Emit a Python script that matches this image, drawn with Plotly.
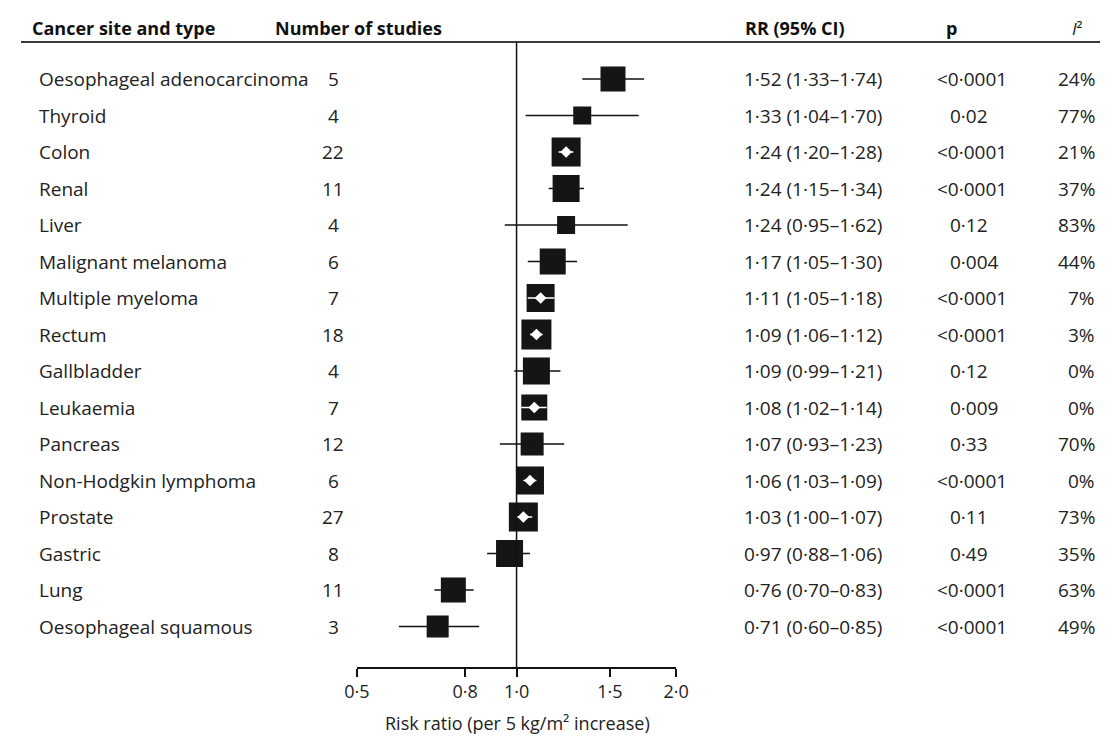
import math
import plotly.graph_objects as go

# ---------------- data ----------------
sites = ["Oesophageal adenocarcinoma", "Thyroid", "Colon", "Renal", "Liver",
         "Malignant melanoma", "Multiple myeloma", "Rectum", "Gallbladder",
         "Leukaemia", "Pancreas", "Non-Hodgkin lymphoma", "Prostate",
         "Gastric", "Lung", "Oesophageal squamous"]
n_studies = [5, 4, 22, 11, 4, 6, 7, 18, 4, 7, 12, 6, 27, 8, 11, 3]
rr = [1.52, 1.33, 1.24, 1.24, 1.24, 1.17, 1.11, 1.09, 1.09, 1.08, 1.07, 1.06, 1.03, 0.97, 0.76, 0.71]
ci_low = [1.33, 1.04, 1.20, 1.15, 0.95, 1.05, 1.05, 1.06, 0.99, 1.02, 0.93, 1.03, 1.00, 0.88, 0.70, 0.60]
ci_high = [1.74, 1.70, 1.28, 1.34, 1.62, 1.30, 1.18, 1.12, 1.21, 1.14, 1.23, 1.09, 1.07, 1.06, 0.83, 0.85]
p_values = ["<0·0001", "0·02", "<0·0001", "<0·0001", "0·12", "0·004", "<0·0001", "<0·0001",
            "0·12", "0·009", "0·33", "<0·0001", "0·11", "0·49", "<0·0001", "<0·0001"]
i2 = ["24%", "77%", "21%", "37%", "83%", "44%", "7%", "3%", "0%", "0%", "70%", "0%", "73%", "35%", "63%", "49%"]
tick_vals = [0.5, 0.8, 1.0, 1.5, 2.0]
tick_text = ["0·5", "0·8", "1·0", "1·5", "2·0"]

# ---------------- style ----------------
box_px = [25, 18, 29, 27, 18, 26, 28, 30, 27, 26, 23, 28, 29, 27, 25, 22]
OFF = 8                      # page body margin of the html page
W, H = 1113 - OFF, 736 - OFF
FONT = "Open Sans"
TXT = "#222222"


def fx(px):                  # reference pixel -> figure pixel
    return px - OFF


ax_left, ax_right = fx(352), fx(679)
m_top = fx(42)
m_bot = H - fx(667)
x_lo, x_hi = 0.5, 2.0
px_per_ln = (ax_right - ax_left) / (math.log(x_hi) - math.log(x_lo))

n = len(sites)
rows = list(range(n))


def fmt(v):
    return f"{v:.2f}".replace(".", "·")


rr_text = [f"{fmt(a)} ({fmt(b)}–{fmt(c)})" for a, b, c in zip(rr, ci_low, ci_high)]

fig = go.Figure()

# CI lines (black)
xs, ys = [], []
for i in rows:
    xs += [ci_low[i], ci_high[i], None]
    ys += [i, i, None]
fig.add_trace(go.Scatter(x=xs, y=ys, mode="lines", line=dict(color="#111111", width=1.5),
                         hoverinfo="skip", showlegend=False))

# boxes
fig.add_trace(go.Scatter(x=rr, y=rows, mode="markers",
                         marker=dict(symbol="square", size=box_px, color="#151515",
                                     opacity=1, line=dict(width=0)),
                         hoverinfo="skip", showlegend=False))

# white CI + diamond where CI lies inside box
wx, wy, dx, dy = [], [], [], []
for i in rows:
    span = (math.log(ci_high[i]) - math.log(ci_low[i])) * px_per_ln
    if span <= box_px[i] + 2:
        wx += [ci_low[i], ci_high[i], None]
        wy += [i, i, None]
        dx.append(rr[i])
        dy.append(i)
fig.add_trace(go.Scatter(x=wx, y=wy, mode="lines", line=dict(color="white", width=1.5),
                         hoverinfo="skip", showlegend=False))
fig.add_trace(go.Scatter(x=dx, y=dy, mode="markers",
                         marker=dict(symbol="diamond", size=9, color="white", opacity=1,
                                     line=dict(width=0)),
                         hoverinfo="skip", showlegend=False))

# ---------------- layout ----------------
plot_h = H - m_top - m_bot
row0_px, row_step = fx(79), 36.5
span_rows = plot_h / row_step
y_top = -(row0_px - m_top) / row_step
y_bot = y_top + span_rows


def ypaper(py_ref):
    return (H - m_bot - fx(py_ref)) / plot_h


def xpaper(px_ref):
    return fx(px_ref) / W


annotations = []
# headers
hdr_y = ypaper(28)
for txt, px in [("Cancer site and type", 17), ("Number of studies", 266),
                ("RR (95% CI)", 747), ("p", 953)]:
    annotations.append(dict(x=xpaper(px), y=hdr_y, xref="paper", yref="paper", text=f"<b>{txt}</b>",
                            showarrow=False, xanchor="left", yanchor="middle",
                            font=dict(family=FONT, size=18, color="#111111")))
annotations.append(dict(x=xpaper(1082), y=hdr_y, xref="paper", yref="paper", text="<i>I</i>²",
                        showarrow=False, xanchor="left", yanchor="middle",
                        font=dict(family=FONT, size=17, color="#111111")))

for i in rows:
    base = dict(yref="y", xref="paper", y=i, showarrow=False, yanchor="middle",
                font=dict(family=FONT, size=19, color=TXT))
    annotations.append(dict(base, x=xpaper(24), text=sites[i], xanchor="left"))
    annotations.append(dict(base, x=xpaper(328), text=str(n_studies[i]), xanchor="center"))
    annotations.append(dict(base, x=xpaper(746), text=rr_text[i], xanchor="left"))
    px = 944 if p_values[i].startswith("<") else 957
    annotations.append(dict(base, x=xpaper(px), text=p_values[i], xanchor="left"))
    annotations.append(dict(base, x=xpaper(1110), text=i2[i], xanchor="right"))

annotations.append(dict(x=xpaper(516), y=ypaper(723), xref="paper", yref="paper",
                        text="Risk ratio (per 5 kg/m² increase)", showarrow=False,
                        xanchor="center", yanchor="middle", borderpad=0,
                        font=dict(family=FONT, size=18, color=TXT)))

shapes = [
    dict(type="line", xref="paper", yref="paper", x0=xpaper(8), x1=1, y0=1, y1=1,
         line=dict(color="#3a3a3a", width=2)),
    dict(type="line", xref="x", yref="paper", x0=1, x1=1, y0=0, y1=1,
         line=dict(color="#111111", width=1.5)),
]

fig.update_layout(
    width=W, height=H,
    margin=dict(l=0, r=0, t=m_top, b=m_bot),
    paper_bgcolor="white", plot_bgcolor="white",
    showlegend=False,
    xaxis=dict(type="log", domain=[ax_left / W, ax_right / W],
               range=[math.log10(x_lo), math.log10(x_hi)],
               tickvals=tick_vals, ticktext=tick_text,
               showline=True, linecolor="#111111", linewidth=1.5,
               ticks="outside", ticklen=8, tickwidth=1.5, tickcolor="#111111",
               showgrid=False, zeroline=False,
               tickfont=dict(family=FONT, size=18, color=TXT)),
    yaxis=dict(range=[y_bot, y_top], visible=False, showgrid=False, zeroline=False),
    annotations=annotations,
    shapes=shapes,
)

fig.write_html("out.html")
